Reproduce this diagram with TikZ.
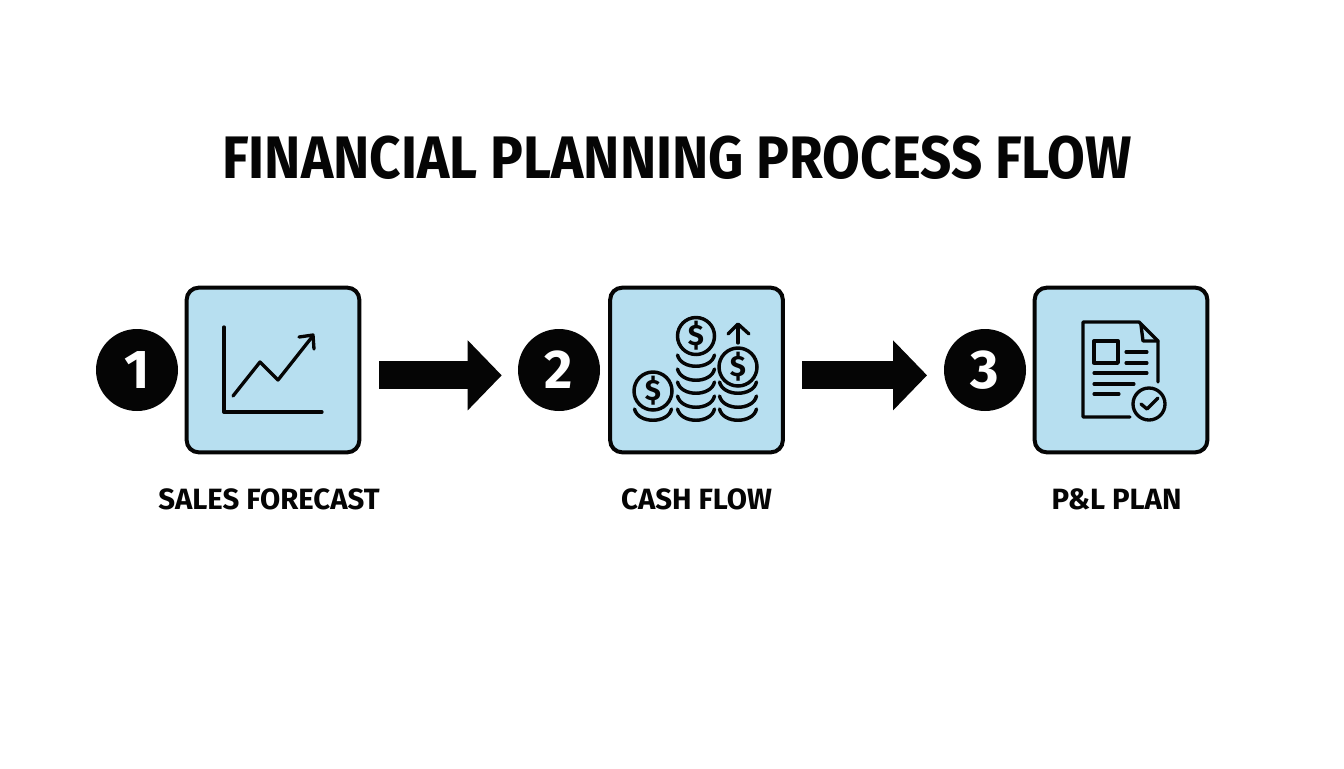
\documentclass[tikz,border=0pt]{standalone}
\usepackage{fontspec}
\setmainfont{Fira Sans}[BoldFont={Fira Sans Bold}]
\usetikzlibrary{arrows.meta}
\definecolor{boxblue}{HTML}{B7DFF0}
\definecolor{ink}{HTML}{050505}
\tikzset{
  px/.style={x=0.75pt,y=-0.75pt},
  card/.style={draw=ink,fill=boxblue,line width=3pt,rounded corners=9pt,minimum width=129.5pt,minimum height=123.5pt,inner sep=0pt},
  badge/.style={circle,fill=ink,text=white,minimum size=61.5pt,inner sep=0pt,font=\fontsize{41}{41}\selectfont\bfseries},
  steplabel/.style={text=ink,inner sep=0pt,font=\fontsize{22}{24}\selectfont\bfseries},
  flow/.style={draw=ink,line width=21pt,-{Triangle[length=25.5pt,width=51pt]}},
  icon/.style={draw=ink,line width=2.5pt,line cap=round,line join=round},
  thin icon/.style={draw=ink,line width=2.3pt,line cap=round,line join=round},
  coin/.style={draw=ink,line width=2.6pt},
  rim/.style={draw=ink,line width=2.6pt,line cap=round},
  dollar/.style={text=ink,inner sep=0pt,font=\fontsize{22}{22}\selectfont\bfseries}
}
\begin{document}
\begin{tikzpicture}[px]
\useasboundingbox (0,0) rectangle (1344,768);
\fill[white] (0,0) rectangle (1344,768);
\node[text=ink,inner sep=0pt,xscale=0.912,transform shape,font=\fontsize{45}{48}\selectfont\bfseries] (title) at (677,158) {FINANCIAL PLANNING PROCESS FLOW};
\node[badge] (n1) at (137,370) {1};
\node[badge] (n2) at (559,370) {2};
\node[badge] (n3) at (985,370) {3};
\node[card] (b1) at (273,370) {};
\node[card] (b2) at (696.5,370) {};
\node[card] (b3) at (1121,370) {};
\node[steplabel] (l1) at (269,499) {SALES FORECAST};
\node[steplabel] (l2) at (696.5,499) {CASH FLOW};
\node[steplabel] (l3) at (1116.5,499) {P\&L PLAN};
\coordinate (a1s) at ([yshift=-4pt]b1.east);
\coordinate (a1e) at ([yshift=-4pt]n2.west);
\coordinate (a2s) at ([yshift=-4pt]b2.east);
\coordinate (a2e) at ([yshift=-4pt]n3.west);
\draw[flow,shorten <=13.5pt,shorten >=12pt] (a1s) -- (a1e);
\draw[flow,shorten <=13pt,shorten >=12.5pt] (a2s) -- (a2e);
% icon 1
\draw[icon] (224,327) -- (224,412) -- (322,412);
\draw[icon] (233,396) -- (260,362) -- (278,380) -- (312,337);
\draw[icon] (299,337) -- (313,335) -- (314,349);
% icon 2
\foreach \cx/\by in {696/367,696/381,696/394,696/408,696/421,738/394,738/408,738/421,653/421}
  \draw[rim] (\cx-18.5,\by-12) .. controls (\cx-15,\by+3) and (\cx+15,\by+3) .. (\cx+18.5,\by-12);
\draw[coin] (696,336) circle[radius=18.5];
\draw[coin,fill=boxblue] (738,367) circle[radius=19];
\draw[coin] (653,391) circle[radius=19];
\node[dollar] at (696,336) {\$};
\node[dollar] at (738,367) {\$};
\node[dollar] at (653,391) {\$};
\draw[icon] (738,343) -- (738,325);
\draw[icon] (728,334) -- (738,324) -- (749,334);
% icon 3
\draw[icon] (1130,417) -- (1083,417) -- (1083,322) -- (1139,322) -- (1158,341) -- (1158,382);
\draw[icon] (1141,325) -- (1143,341) -- (1158,341);
\draw[icon,line cap=butt] (1094,341) rectangle (1118,363);
\draw[thin icon] (1126,352) -- (1147,352);
\draw[thin icon] (1126,363) -- (1147,363);
\draw[thin icon] (1094,373) -- (1147,373);
\draw[thin icon] (1094,384) -- (1134,384);
\draw[thin icon] (1094,394) -- (1119,394);
\draw[icon] (1149,404) circle[radius=16];
\draw[icon] (1141,404) -- (1147,409) -- (1158,398);
\end{tikzpicture}
\end{document}
